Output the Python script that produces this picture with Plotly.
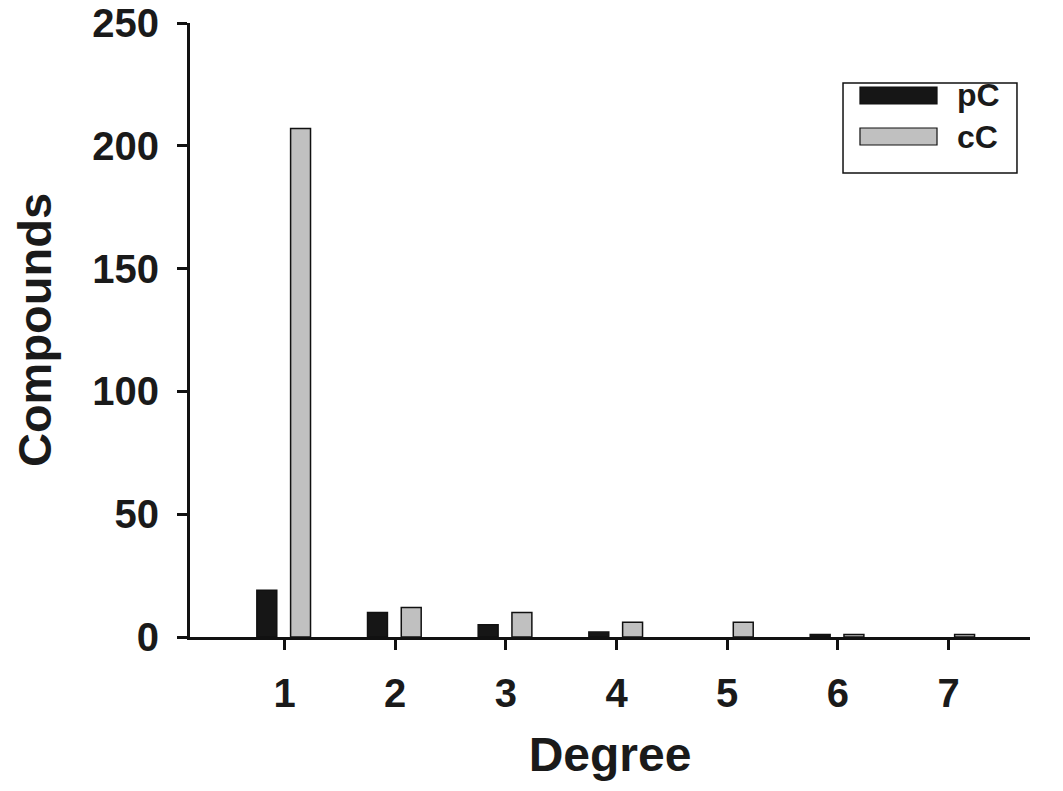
import plotly.graph_objects as go

degrees = [1, 2, 3, 4, 5, 6, 7]
series_names = ["pC", "cC"]
pC_values = [19, 10, 5, 2, 0, 1, 0]
cC_values = [207, 12, 10, 6, 6, 1, 1]
y_ticks = [0, 50, 100, 150, 200, 250]

BLACK = "#161616"
GRAY = "#c0c0c0"
FONT = "Liberation Sans, Arial, sans-serif"


def outline(vals):
    return [0 if v == 0 else 1.5 for v in vals]


fig = go.Figure()
fig.add_trace(go.Bar(x=degrees, y=pC_values, name=series_names[0], width=0.18, offset=-0.25,
                     marker=dict(color=BLACK, line=dict(color="#111", width=outline(pC_values))),
                     showlegend=False))
fig.add_trace(go.Bar(x=degrees, y=cC_values, name=series_names[1], width=0.18, offset=0.055,
                     marker=dict(color=GRAY, line=dict(color="#111", width=outline(cC_values))),
                     showlegend=False))

# custom legend (paper coordinates)
shapes = [
    dict(type="rect", xref="paper", yref="paper", x0=0.7774, x1=0.9845, y0=0.7557, y1=0.9023,
         line=dict(color="#111", width=1.5), fillcolor="white", layer="above"),
    dict(type="rect", xref="paper", yref="paper", x0=0.7976, x1=0.8893, y0=0.8681, y1=0.8958,
         line=dict(color="#111", width=1.2), fillcolor=BLACK, layer="above"),
    dict(type="rect", xref="paper", yref="paper", x0=0.7976, x1=0.8893, y0=0.8013, y1=0.8290,
         line=dict(color="#111", width=1.2), fillcolor=GRAY, layer="above"),
]
annotations = [
    dict(text=series_names[0], xref="paper", yref="paper", x=0.9107, y=0.8827, xanchor="left",
         yanchor="middle", showarrow=False, font=dict(family=FONT, size=32, color="#1a1a1a", weight="bold")),
    dict(text=series_names[1], xref="paper", yref="paper", x=0.9107, y=0.8143, xanchor="left",
         yanchor="middle", showarrow=False, font=dict(family=FONT, size=32, color="#1a1a1a", weight="bold")),
]

fig.update_layout(
    width=1063, height=791,
    margin=dict(l=190, r=33, t=23, b=154),
    plot_bgcolor="white", paper_bgcolor="white",
    shapes=shapes, annotations=annotations,
    font=dict(family=FONT, color="#1a1a1a", weight="bold"),
    xaxis=dict(range=[0.146, 7.736], tickmode="array", tickvals=degrees, ticktext=[str(d) for d in degrees],
               showline=True, linecolor="#111", linewidth=3, ticks="outside", ticklen=10, tickwidth=3,
               tickcolor="#111", showgrid=False, zeroline=False, automargin=False, layer="above traces",
               ticklabelstandoff=9,
               tickfont=dict(family=FONT, size=40, weight="bold"),
               title=dict(text="Degree", font=dict(family=FONT, size=48, weight="bold"), standoff=24)),
    yaxis=dict(range=[0, 250], tickmode="array", tickvals=y_ticks, ticktext=[str(v) for v in y_ticks],
               showline=True, linecolor="#111", linewidth=3, ticks="outside", ticklen=10, tickwidth=3,
               tickcolor="#111", showgrid=False, zeroline=False, automargin=False, layer="above traces",
               ticklabelstandoff=10,
               tickfont=dict(family=FONT, size=40, weight="bold"),
               title=dict(text="Compounds", font=dict(family=FONT, size=47, weight="bold"), standoff=26)),
)

fig.write_html("out.html", config={"displayModeBar": False},
               post_script="document.body.style.margin='0';")
